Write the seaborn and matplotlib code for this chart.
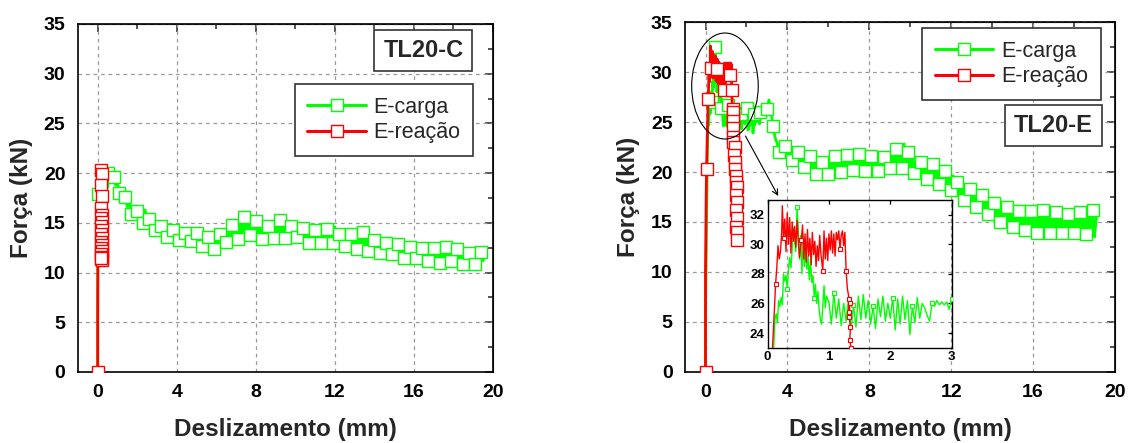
import numpy as np
import pandas as pd
import matplotlib
matplotlib.use("Agg")
import matplotlib.pyplot as plt
import seaborn as sns
from matplotlib.patches import Ellipse
from matplotlib.lines import Line2D
from matplotlib.ticker import MultipleLocator

# ---------------- data: TL20-C ----------------
x_c_carga = [0.0, 0.0, 0.01, 0.0, 0.05, 0.1, 0.2, 0.3, 0.4, 0.5, 0.6,
             0.7, 0.8, 0.9,
             1.0, 1.1, 1.2, 1.3, 1.4, 1.5, 1.6, 1.7, 1.8, 1.9,
             2.0, 2.1, 2.2, 2.3, 2.4, 2.5, 2.6, 2.7, 2.8, 2.9,
             3.0, 3.1, 3.2, 3.3, 3.4, 3.5, 3.6, 3.7, 3.8, 3.9,
             4.0, 4.1, 4.2, 4.3, 4.4, 4.5, 4.6, 4.7, 4.8, 4.9,
             5.0, 5.1, 5.2, 5.3, 5.4, 5.5, 5.6, 5.7, 5.8, 5.9,
             6.0, 6.1, 6.2, 6.3, 6.4, 6.5, 6.6, 6.7, 6.8, 6.9,
             7.0, 7.1, 7.2, 7.3, 7.4, 7.5, 7.6, 7.7, 7.8, 7.9,
             8.0, 8.1, 8.2, 8.3, 8.4, 8.5, 8.6, 8.7, 8.8, 8.9,
             9.0, 9.1, 9.2, 9.3, 9.4, 9.5, 9.6, 9.7, 9.8, 9.9,
             10.0, 10.1, 10.2, 10.3, 10.4, 10.5, 10.6, 10.7, 10.8, 10.9,
             11.0, 11.1, 11.2, 11.3, 11.4, 11.5, 11.6, 11.7, 11.8, 11.9,
             12.0, 12.1, 12.2, 12.3, 12.4, 12.5, 12.6, 12.7, 12.8, 12.9,
             13.0, 13.1, 13.2, 13.3, 13.4, 13.5, 13.6, 13.7, 13.8, 13.9,
             14.0, 14.1, 14.2, 14.3, 14.4, 14.5, 14.6, 14.7, 14.8, 14.9,
             15.0, 15.1, 15.2, 15.3, 15.4, 15.5, 15.6, 15.7, 15.8, 15.9,
             16.0, 16.1, 16.2, 16.3, 16.4, 16.5, 16.6, 16.7, 16.8, 16.9,
             17.0, 17.1, 17.2, 17.3, 17.4, 17.5, 17.6, 17.7, 17.8, 17.9,
             18.0, 18.1, 18.2, 18.3, 18.4, 18.5, 18.6, 18.7, 18.8, 18.9,
             19.0, 19.1, 19.2, 19.3, 19.4, 19.5, 19.6]
y_c_carga = [0.0, 8.0, 15.0, 17.9, 18.3, 18.9, 19.2, 19.6, 19.4, 20.0, 19.9,
             19.3, 19.6, 18.8,
             19.0, 18.0, 18.4, 17.3, 17.6, 16.6, 17.0, 15.9, 16.4, 15.5,
             16.2, 15.3, 15.9, 15.0, 16.3, 14.8, 15.4, 14.5, 15.1, 14.3,
             14.9, 14.0, 14.7, 13.9, 14.8, 13.6, 14.4, 13.5, 14.3, 13.2,
             14.1, 13.3, 14.4, 13.1, 14.0, 13.0, 14.2, 13.2, 13.9, 12.9,
             14.0, 12.8, 13.7, 12.7, 13.5, 12.4, 13.6, 12.5, 13.9, 12.4,
             13.8, 12.8, 13.9, 13.0, 14.2, 13.1, 14.5, 13.3, 14.8, 13.5,
             14.6, 13.4, 15.0, 13.7, 15.6, 13.6, 15.1, 13.8, 15.4, 13.9,
             15.2, 13.6, 14.8, 13.4, 14.6, 13.3, 14.7, 13.2, 14.9, 13.5,
             15.2, 13.6, 15.3, 13.4, 14.8, 13.5, 14.6, 13.3, 14.7, 13.5,
             14.9, 13.6, 14.6, 13.2, 14.5, 12.9, 14.6, 13.0, 14.4, 12.8,
             14.3, 12.9, 14.5, 13.0, 14.2, 12.6, 14.4, 12.8, 14.7, 13.0,
             14.6, 12.6, 13.9, 12.4, 13.8, 12.7, 14.0, 12.5, 13.9, 12.6,
             14.0, 12.4, 13.8, 12.5, 14.1, 12.3, 13.6, 12.2, 13.4, 12.1,
             13.3, 12.0, 13.5, 12.0, 13.2, 11.9, 13.0, 11.7, 12.9, 11.9,
             12.8, 11.6, 12.9, 11.8, 12.7, 11.5, 12.8, 11.4, 12.6, 11.3,
             13.0, 11.5, 12.7, 11.3, 12.5, 11.4, 12.6, 11.2, 12.8, 11.3,
             12.5, 11.1, 12.4, 11.0, 12.7, 10.9, 12.6, 11.1, 12.3, 11.2,
             12.2, 11.0, 12.4, 11.2, 12.3, 10.9, 12.1, 10.8, 12.0, 11.0,
             11.9, 10.9, 12.2, 11.0, 12.1, 11.2, 11.8]

x_c_reacao = [0.0, 0.0, 0.01, 0.02, 0.04, 0.08, 0.18, 0.20, 0.19, 0.21,
              0.18, 0.20, 0.19, 0.21, 0.18, 0.20, 0.19, 0.21, 0.18, 0.20,
              0.19, 0.21, 0.19, 0.20, 0.18, 0.20, 0.19]
y_c_reacao = [0.0, 5.0, 12.0, 17.0, 19.0, 19.8, 20.3, 19.9, 18.8, 17.7,
              16.5, 15.8, 15.5, 15.1, 14.7, 14.3, 13.9, 13.5, 13.1, 12.8,
              12.5, 12.2, 11.9, 11.6, 11.4, 11.3, 11.5]

# ---------------- data: TL20-E ----------------
x_e_carga_a = [0.0, 0.0, 0.05, 0.10, 0.12, 0.14, 0.16, 0.18, 0.20, 0.22,
               0.24, 0.26, 0.28, 0.30, 0.32, 0.34, 0.36, 0.38, 0.40, 0.42,
               0.44, 0.46, 0.48, 0.50, 0.52, 0.54, 0.56, 0.58, 0.60, 0.62,
               0.64, 0.66, 0.68, 0.70, 0.72, 0.74, 0.76, 0.78, 0.80, 0.82,
               0.84, 0.86, 0.88, 0.90, 0.92, 0.94, 0.96]
y_e_carga_a = [0.0, 6.0, 15.0, 23.0, 24.9, 25.3, 24.7, 26.2, 25.8, 26.4,
               25.9, 28.0, 27.5, 27.9, 27.0, 28.3, 29.1, 28.4, 29.6, 31.1,
               30.2, 29.5, 32.5, 31.0, 29.0, 30.6, 28.0, 30.2, 28.5, 29.9,
               28.3, 29.2, 27.6, 28.9, 27.4, 27.9, 26.4, 27.3, 26.0, 26.8,
               25.6, 24.9, 24.6, 25.8, 27.2, 25.7, 26.5]
x_e_carga_b = [1.00, 1.04, 1.08, 1.12, 1.16, 1.20, 1.24, 1.28, 1.32, 1.36,
               1.40, 1.44, 1.48, 1.52, 1.56, 1.60, 1.64, 1.68, 1.72, 1.76,
               1.80, 1.84, 1.88, 1.92, 1.96, 2.00, 2.04, 2.08, 2.12, 2.16,
               2.20, 2.24, 2.28, 2.32, 2.36, 2.40, 2.44, 2.48, 2.52, 2.56,
               2.60, 2.64, 2.68, 2.72, 2.76, 2.80, 2.84, 2.88, 2.92, 2.96]
y_e_carga_b = [26.1, 24.6, 26.7, 25.0, 26.3, 24.5, 26.0, 24.8, 26.4, 24.2,
               25.9, 24.4, 26.5, 24.9, 26.6, 25.0, 26.2, 24.6, 25.8, 24.3,
               26.3, 25.1, 26.5, 24.8, 26.0, 25.0, 26.4, 24.2, 26.3, 24.6,
               26.5, 24.9, 26.2, 23.9, 25.8, 24.7, 26.4, 25.0, 26.0, 25.7,
               25.2, 24.8, 26.0, 25.8, 26.2, 25.9, 26.1, 25.9, 26.1, 25.6]
x_e_carga_c = [3.0, 3.1, 3.2, 3.3, 3.4, 3.5, 3.6, 3.7, 3.8, 3.9,
               4.0, 4.1, 4.2, 4.3, 4.4, 4.5, 4.6, 4.7, 4.8, 4.9,
               5.0, 5.1, 5.2, 5.3, 5.4, 5.5, 5.6, 5.7, 5.8, 5.9,
               6.0, 6.1, 6.2, 6.3, 6.4, 6.5, 6.6, 6.7, 6.8, 6.9,
               7.0, 7.1, 7.2, 7.3, 7.4, 7.5, 7.6, 7.7, 7.8, 7.9,
               8.0, 8.1, 8.2, 8.3, 8.4, 8.5, 8.6, 8.7, 8.8, 8.9,
               9.0, 9.1, 9.2, 9.3, 9.4, 9.5, 9.6, 9.7, 9.8, 9.9,
               10.0, 10.1, 10.2, 10.3, 10.4, 10.5, 10.6, 10.7, 10.8, 10.9,
               11.0, 11.1, 11.2, 11.3, 11.4, 11.5, 11.6, 11.7, 11.8, 11.9,
               12.0, 12.1, 12.2, 12.3, 12.4, 12.5, 12.6, 12.7, 12.8, 12.9,
               13.0, 13.1, 13.2, 13.3, 13.4, 13.5, 13.6, 13.7, 13.8, 13.9,
               14.0, 14.1, 14.2, 14.3, 14.4, 14.5, 14.6, 14.7, 14.8, 14.9,
               15.0, 15.1, 15.2, 15.3, 15.4, 15.5, 15.6, 15.7, 15.8, 15.9,
               16.0, 16.1, 16.2, 16.3, 16.4, 16.5, 16.6, 16.7, 16.8, 16.9,
               17.0, 17.1, 17.2, 17.3, 17.4, 17.5, 17.6, 17.7, 17.8, 17.9,
               18.0, 18.1, 18.2, 18.3, 18.4, 18.5, 18.6, 18.7, 18.8, 18.9,
               19.0, 19.1]
y_e_carga_c = [26.3, 27.2, 26.0, 24.6, 23.4, 22.9, 22.0, 23.0, 21.8, 22.6,
               21.5, 22.4, 21.2, 22.3, 21.0, 22.0, 20.6, 21.8, 20.5, 21.5,
               20.3, 21.6, 20.0, 21.4, 19.8, 21.2, 19.5, 21.0, 19.6, 21.3,
               19.8, 21.5, 19.9, 21.6, 19.7, 21.4, 20.0, 21.8, 20.1, 21.7,
               19.9, 21.9, 20.2, 21.6, 20.0, 21.8, 20.3, 21.7, 20.1, 21.5,
               20.0, 21.6, 19.9, 21.4, 20.1, 21.3, 19.8, 21.5, 20.2, 21.8,
               20.4, 22.0, 20.2, 22.3, 20.6, 22.6, 20.4, 22.8, 20.5, 22.0,
               20.3, 21.6, 19.9, 21.4, 19.6, 21.0, 19.4, 21.2, 19.3, 20.9,
               19.2, 20.8, 19.0, 20.6, 18.8, 20.5, 18.7, 20.1, 18.5, 20.3,
               18.2, 19.6, 17.8, 19.0, 17.4, 18.8, 17.2, 18.6, 16.9, 18.3,
               16.8, 18.0, 16.5, 17.8, 16.4, 17.7, 16.0, 17.5, 15.8, 17.3,
               15.6, 16.9, 15.2, 16.8, 15.0, 16.6, 14.8, 16.5, 14.7, 16.3,
               14.5, 16.2, 14.4, 16.1, 14.2, 16.0, 14.2, 15.9, 14.0, 16.1,
               14.1, 15.8, 13.9, 16.0, 14.0, 16.2, 14.1, 15.9, 13.9, 15.8,
               14.0, 16.0, 13.8, 15.7, 13.9, 16.1, 14.0, 15.8, 13.7, 15.6,
               13.9, 15.9, 14.1, 16.0, 14.0, 15.7, 13.8, 15.9, 13.9, 16.2,
               13.5, 15.8]

x_e_reacao = [0.0, 0.0, 0.03, 0.05, 0.08, 0.11, 0.13, 0.15, 0.17, 0.19,
              0.21, 0.23, 0.24, 0.26, 0.28, 0.30, 0.32, 0.34, 0.36, 0.38,
              0.40, 0.42, 0.44, 0.46, 0.48, 0.50, 0.52, 0.55, 0.57, 0.59,
              0.61, 0.63, 0.65, 0.67, 0.69, 0.71, 0.73, 0.75, 0.77, 0.79,
              0.81, 0.83, 0.85, 0.87, 0.90, 0.92, 0.94, 0.96, 0.98, 1.00,
              1.02, 1.04, 1.06, 1.08, 1.10, 1.12, 1.14, 1.16, 1.18, 1.20,
              1.22, 1.24, 1.26, 1.28, 1.30, 1.33, 1.32, 1.34, 1.33, 1.35,
              1.34, 1.36, 1.42, 1.39, 1.46, 1.43, 1.47, 1.50, 1.53, 1.51,
              1.52, 1.50, 1.52, 1.51, 1.53, 1.52]
y_e_reacao = [0.0, 10.0, 17.0, 20.3, 23.0, 25.5, 27.3, 28.4, 29.9, 29.0,
              29.5, 30.8, 32.6, 30.4, 31.7, 29.5, 32.1, 30.0, 31.8, 29.4,
              31.5, 30.2, 31.2, 29.8, 31.6, 30.2, 29.1, 30.3, 31.3, 29.0,
              30.7, 28.8, 31.0, 29.2, 30.4, 28.6, 30.8, 29.3, 30.2, 28.5,
              29.9, 28.9, 30.6, 29.3, 28.2, 30.9, 29.0, 30.4, 28.9, 30.7,
              29.6, 30.9, 29.4, 30.7, 29.2, 30.8, 30.3, 30.9, 29.7, 30.6,
              30.9, 29.9, 30.8, 28.2, 27.0, 26.3, 25.4, 26.0, 25.1, 24.4,
              23.5, 23.0, 22.5, 21.7, 21.0, 20.3, 19.6, 19.0, 18.5, 17.7,
              17.0, 16.2, 15.4, 14.5, 14.0, 13.2]

labels = ["E-carga", "E-reação"]
panel_titles = ["TL20-C", "TL20-E"]
x_ticks = [0, 4, 8, 12, 16, 20]
y_ticks = [0, 5, 10, 15, 20, 25, 30, 35]
inset_x_ticks = [0, 1, 2, 3]
inset_y_ticks = [24, 26, 28, 30, 32]

GREEN = "#00ff00"
RED = "#ff0000"

# ---------------- style ----------------
sns.set_style("white")
plt.rcParams["font.family"] = ["Liberation Sans", "DejaVu Sans"]
plt.rcParams["font.weight"] = "bold"
plt.rcParams["axes.labelweight"] = "bold"

fig = plt.figure(figsize=(11.28, 4.43), dpi=100)
axL = fig.add_axes([0.0691, 0.1603, 0.3679, 0.7856])
axR = fig.add_axes([0.6073, 0.1603, 0.3812, 0.7900])


def draw(ax, x, y, color, label, marks, ms, lw, mew=1.0):
    df = pd.DataFrame({"x": x, "y": y})
    sns.lineplot(data=df, x="x", y="y", ax=ax, sort=False, estimator=None,
                 color=color, linewidth=lw, marker="s", markevery=marks,
                 markersize=ms, markerfacecolor="white",
                 markeredgecolor=color, markeredgewidth=mew,
                 label=label, legend=False, zorder=3)


def style_main(ax):
    ax.set_xlim(-1, 20)
    ax.set_ylim(0, 35)
    ax.set_xticks(x_ticks)
    ax.set_yticks(y_ticks)
    ax.xaxis.set_minor_locator(MultipleLocator(2))
    ax.yaxis.set_minor_locator(MultipleLocator(2.5))
    ax.set_axisbelow(True)
    ax.grid(True, which="major", color="#9a9a9a", linestyle=(0, (3, 3)),
            linewidth=0.9)
    for s in ax.spines.values():
        s.set_linewidth(1.2)
        s.set_color("black")
        s.set_visible(True)
    ax.tick_params(which="major", direction="out", length=6, width=1.1,
                   labelsize=14, pad=3, colors="black")
    ax.tick_params(which="minor", direction="out", length=3.5, width=1.1)
    secx = ax.secondary_xaxis("top")
    secx.set_xticks(x_ticks)
    secx.xaxis.set_minor_locator(MultipleLocator(2))
    secx.tick_params(which="major", direction="in", length=6, width=1.1,
                     labeltop=False)
    secx.tick_params(which="minor", direction="in", length=3.5, width=1.1)
    secy = ax.secondary_yaxis("right")
    secy.set_yticks(y_ticks)
    secy.yaxis.set_minor_locator(MultipleLocator(2.5))
    secy.tick_params(which="major", direction="in", length=6, width=1.1,
                     labelright=False)
    secy.tick_params(which="minor", direction="in", length=3.5, width=1.1)
    ax.set_xlabel("Deslizamento (mm)", fontsize=17.5, fontweight="bold",
                  labelpad=12)
    ax.set_ylabel("Força (kN)", fontsize=17.5, fontweight="bold", labelpad=8)


def legend(ax, anchor):
    handles = [
        Line2D([], [], color=GREEN, lw=2.2, marker="s", ms=9,
               markerfacecolor="white", markeredgecolor=GREEN),
        Line2D([], [], color=RED, lw=2.2, marker="s", ms=9,
               markerfacecolor="white", markeredgecolor=RED),
    ]
    leg = ax.legend(handles, labels, loc="upper right", bbox_to_anchor=anchor,
                    borderaxespad=0, handlelength=2.7, handletextpad=0.35,
                    borderpad=0.6, labelspacing=0.2, frameon=True,
                    fancybox=False, edgecolor="#333333", framealpha=1,
                    prop={"weight": "normal", "size": 15.5})
    leg.get_frame().set_linewidth(1.2)
    leg.set_zorder(6)


def tag(ax, xy, text):
    ax.text(xy[0], xy[1], text, transform=ax.transAxes, ha="center",
            va="center", fontsize=17, fontweight="bold", zorder=6,
            bbox=dict(boxstyle="square,pad=0.38", fc="white", ec="#333333",
                      lw=1.2))


# ---------------- left panel ----------------
marks_c_carga = list(range(3, len(x_c_carga), 3))
marks_c_reacao = [0] + list(range(6, len(x_c_reacao)))
draw(axL, x_c_carga, y_c_carga, GREEN, labels[0], marks_c_carga, 8, 2.0)
draw(axL, x_c_reacao, y_c_reacao, RED, labels[1], marks_c_reacao, 8, 2.0)
style_main(axL)
legend(axL, (0.952, 0.828))
tag(axL, (0.8325, 0.925), panel_titles[0])

# ---------------- right panel ----------------
x_e_carga = x_e_carga_a + x_e_carga_b + x_e_carga_c
y_e_carga = y_e_carga_a + y_e_carga_b + y_e_carga_c
na, nb = len(x_e_carga_a), len(x_e_carga_b)
marks_e_carga = [14, 22, 36] + list(range(na + 2, na + nb, 8)) + \
    list(range(na + nb, len(x_e_carga), 3))
marks_e_reacao = [0, 3, 6, 13, 27, 44, 58, 63] + \
    list(range(65, len(x_e_reacao)))
draw(axR, x_e_carga, y_e_carga, GREEN, labels[0], marks_e_carga, 8, 2.0)
draw(axR, x_e_reacao, y_e_reacao, RED, labels[1], marks_e_reacao, 8, 2.0)
style_main(axR)
legend(axR, (0.967, 0.983))
tag(axR, (0.856, 0.705), panel_titles[1])

axR.add_patch(Ellipse((0.95, 28.6), 3.25, 10.6, fill=False, ec="black",
                      lw=0.8, zorder=5))
axR.annotate("", xy=(3.55, 17.6), xytext=(1.95, 23.6),
             arrowprops=dict(arrowstyle="->", color="black", lw=0.8,
                             shrinkA=0, shrinkB=0), zorder=5)

ins = axR.inset_axes([0.192, 0.069, 0.428, 0.423])
ins.patch.set_alpha(0)
draw(ins, x_e_carga, y_e_carga, GREEN, None, marks_e_carga, 3.5, 1.0, 0.8)
draw(ins, x_e_reacao, y_e_reacao, RED, None, marks_e_reacao, 3.5, 1.0, 0.8)
ins.set_xlim(0, 3)
ins.set_ylim(23, 33)
ins.set_xticks(inset_x_ticks)
ins.set_yticks(inset_y_ticks)
ins.grid(False)
ins.set_xlabel("")
ins.set_ylabel("")
for s in ins.spines.values():
    s.set_linewidth(1.0)
    s.set_color("black")
    s.set_visible(True)
ins.tick_params(direction="in", length=3, width=0.9, labelsize=9.5, pad=2,
                colors="black", top=True, right=True)

fig.savefig("out.png", dpi=100)
